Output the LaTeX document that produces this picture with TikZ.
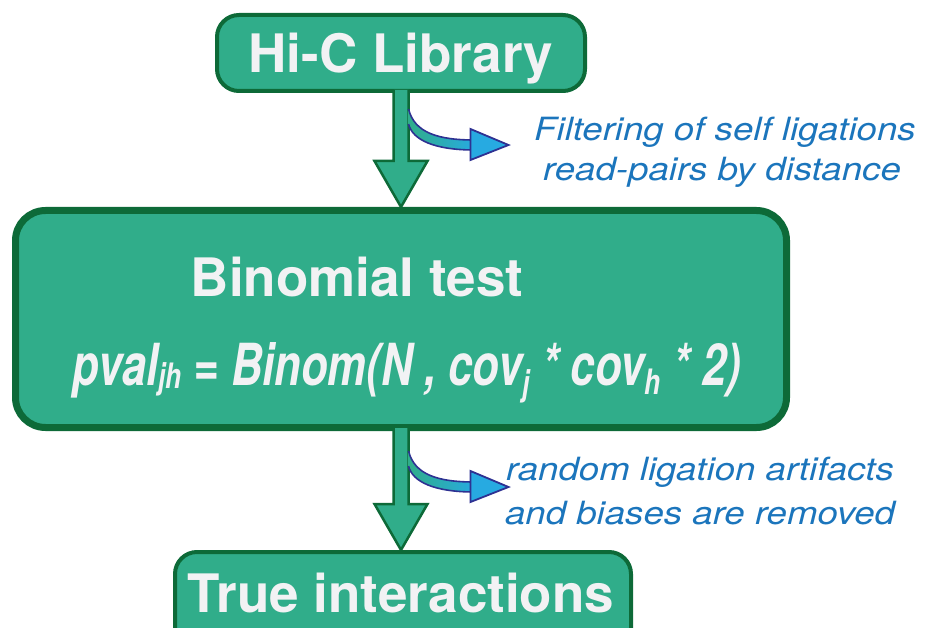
\documentclass[tikz,border=0pt]{standalone}
\usepackage{fontspec}
\setmainfont{TeX Gyre Heros}
\usetikzlibrary{calc}
\definecolor{boxfill}{RGB}{48,173,138}
\definecolor{boxline}{RGB}{13,106,56}
\definecolor{boxtext}{RGB}{242,242,244}
\definecolor{notecol}{RGB}{27,117,188}
\definecolor{curvecyan}{RGB}{39,170,225}
\definecolor{curveline}{RGB}{46,49,146}
\tikzset{
  box/.style={draw=boxline, fill=boxfill, rectangle, rounded corners=22pt, inner sep=0pt},
  titletext/.style={text=boxtext, font=\fontsize{53}{60}\selectfont\bfseries, anchor=base, inner sep=0pt},
  formulatext/.style={text=boxtext, font=\fontsize{58}{64}\selectfont\bfseries\itshape, anchor=base west, inner sep=0pt, xscale=0.75},
  notetext/.style={text=notecol, font=\fontsize{32}{38}\selectfont\itshape, anchor=base, inner sep=0pt, xscale=1.145},
  arrowbody/.style={fill=boxfill},
  arrowedge/.style={draw=boxline, line width=2.5pt, line join=miter},
  curveedge/.style={draw=curveline, line width=1.6pt},
}
% lowered small index: #1 = drop, #2 = text
\newcommand\lowidx[2]{\raisebox{-#1}{\fontsize{35}{40}\selectfont #2}}
% block arrow from the bottom of #1 to the top of #2, head length #3
\newcommand\blockarr[3]{%
  \fill[arrowbody] let \p1=(#1.south), \p2=(#2.north) in
    (\x1-7.5pt,\y1+3pt) -- (\x1-7.5pt,\y2+#3pt) -- (\x1-26.5pt,\y2+#3pt) -- (\x1,\y2)
    -- (\x1+26.5pt,\y2+#3pt) -- (\x1+7.5pt,\y2+#3pt) -- (\x1+7.5pt,\y1+3pt) -- cycle;
  \draw[arrowedge] let \p1=(#1.south), \p2=(#2.north) in
    (\x1-7.5pt,\y1+3pt) -- (\x1-7.5pt,\y2+#3pt) -- (\x1-26.5pt,\y2+#3pt) -- (\x1,\y2)
    -- (\x1+26.5pt,\y2+#3pt) -- (\x1+7.5pt,\y2+#3pt) -- (\x1+7.5pt,\y1+3pt);
}
% curved side arrow starting at coordinate #1
\newcommand\sidearr[1]{%
  \begin{scope}[shift={(#1)}]
    \shade[left color=boxfill, right color=curvecyan]
      (0,0) .. controls (6,24) and (30,31) .. (66,31) -- (66,41)
      .. controls (26,41) and (4,31) .. (0,15) -- cycle;
    \draw[curveedge] (0,0) .. controls (6,24) and (30,31) .. (66,31);
    \draw[curveedge] (66,41) .. controls (26,41) and (4,31) .. (0,15);
    \filldraw[fill=curvecyan, curveedge, line width=1.8pt, line join=miter]
      (62,20) -- (100,36) -- (62,51) -- cycle;
  \end{scope}}
\begin{document}
\begin{tikzpicture}[x=1pt,y=-1pt]
  \useasboundingbox (0,0) rectangle (925,628);
  \clip (0,0) rectangle (925,628);
  % boxes
  \node[box, line width=4pt, minimum width=368pt, minimum height=76pt] (hic) at (401,53) {};
  \node[box, line width=7pt, rounded corners=30pt, minimum width=771pt, minimum height=217pt] (bin) at (401,319) {};
  \node[box, line width=4pt, minimum width=456pt, minimum height=100pt] (tru) at (403,602) {};
  % texts in boxes
  \node[titletext] (hictext) at (401,73) {Hi-C Library};
  \node[titletext] (bintext) at (357,296) {Binomial test};
  \node[formulatext] (formula) at (72,385)
    {pval\lowidx{3pt}{jh} = Binom(N , cov\lowidx{10pt}{j} * cov\lowidx{9pt}{h} * 2)};
  \node[titletext] (trutext) at (401,612) {True interactions};
  % block arrows
  \blockarr{hic}{bin}{46}
  \blockarr{bin}{tru}{46}
  % side arrows
  \coordinate (s1) at ($(hic.south)+(7.5,16)$);
  \coordinate (s2) at ($(bin.south)+(7.5,20)$);
  \sidearr{s1}
  \sidearr{s2}
  % notes
  \node[notetext] (n1a) at (725,141) {Filtering of self ligations};
  \node[notetext] (n1b) at (722,181) {read-pairs by distance};
  \node[notetext] (n2a) at (700,480) {random ligation artifacts};
  \node[notetext] (n2b) at (700,524) {and biases are removed};
\end{tikzpicture}
\end{document}
